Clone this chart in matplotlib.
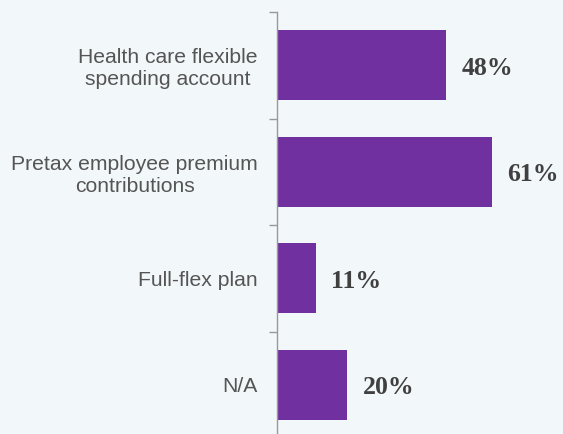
import matplotlib.pyplot as plt
import numpy as np

categories = ["Health care flexible\nspending account",
              "Pretax employee premium\ncontributions",
              "Full-flex plan",
              "N/A"]
values = [48, 61, 11, 20]
labels = ["48%", "61%", "11%", "20%"]

bg = "#f2f7fa"
purple = "#7030a0"
grey = "#404040"

fig = plt.figure(figsize=(5.63, 4.34), dpi=100, facecolor=bg)
ax = fig.add_axes([277/563, -4/434, 1 - 277/563, 426/434])
ax.set_facecolor(bg)

y = np.arange(len(categories))
ax.barh(y, values, height=0.66, color=purple)
ax.set_ylim(len(categories) - 0.5, -0.5)
ax.set_xlim(0, 81.2)

for yi, v, t in zip(y, values, labels):
    ax.text(v + 4.4, yi + 0.03, t, va="center", ha="left", fontsize=18.5,
            fontweight="bold", family="Liberation Serif", color=grey)

# labels centred on the bars, ticks on the boundaries between them
ax.set_yticks(y)
ax.set_yticklabels(categories, fontsize=15.2, family="Liberation Sans",
                   color="#555555", ha="right", multialignment="center")
ax.tick_params(axis="y", which="major", length=0, pad=13.7)
ax.set_yticks(np.arange(-0.5, len(categories)), minor=True)
ax.tick_params(axis="y", which="minor", length=6, width=1, color="#999999")
ax.set_xticks([])

for s in ["top", "right", "bottom"]:
    ax.spines[s].set_visible(False)
ax.spines["left"].set_color("#999999")
ax.spines["left"].set_linewidth(1)

fig.savefig("out.png", dpi=100, facecolor=bg)
